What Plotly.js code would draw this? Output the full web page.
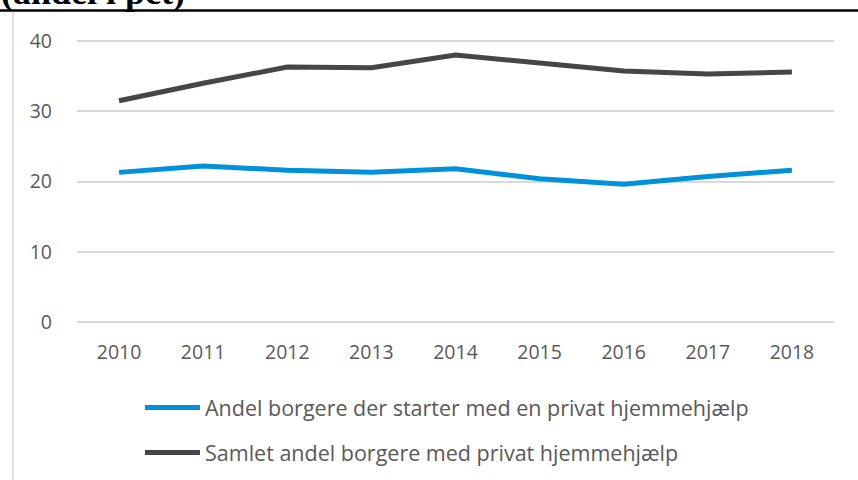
<!DOCTYPE html>
<html>
<head>
<meta charset="utf-8">
<script src="https://cdn.plot.ly/plotly-3.0.1.min.js"></script>
<style>html,body{margin:0;padding:0;background:#fff;}#chart{width:858px;height:480px;}</style>
</head>
<body>
<div id="chart"></div>
<script>
var years = ['2010','2011','2012','2013','2014','2015','2016','2017','2018'];
var andelStart = [21.3, 22.2, 21.6, 21.3, 21.8, 20.4, 19.6, 20.7, 21.6];
var samlet = [31.5, 34.0, 36.3, 36.2, 38.0, 36.8, 35.75, 35.3, 35.6];
var seriesNames = ['Andel borgere der starter med en privat hjemmehjælp', 'Samlet andel borgere med privat hjemmehjælp'];
var yTicks = [0, 10, 20, 30, 40];
var titleText = '(andel i pct)';

var W = 858, H = 480, L = 77, R = 24, T = 40, B = 157;
var pw = W - L - R, ph = H - T - B;
function px(x){ return (x - L) / pw; }
function py(y){ return (H - B - y) / ph; }

var font = "'Open Sans', 'Noto Sans', sans-serif";

var traces = [
  {x: years, y: andelStart, name: seriesNames[0], type: 'scatter', mode: 'lines',
   line: {color: '#0091DA', width: 5}, legendgroup: 'a'},
  {x: years, y: samlet, name: seriesNames[1], type: 'scatter', mode: 'lines',
   line: {color: '#464646', width: 5}, legendgroup: 'b'}
];

var layout = {
  width: W, height: H,
  margin: {l: L, r: R, t: T, b: B, pad: 0, autoexpand: false},
  paper_bgcolor: '#fff', plot_bgcolor: '#fff',
  font: {family: font, color: '#595959', size: 19},
  showlegend: true,
  legend: {orientation: 'v', xref: 'container', yref: 'container', x: 140 / W, xanchor: 'left',
           y: 1 - 387 / H, yanchor: 'top',
           font: {family: font, size: 21.5, color: '#595959'}, tracegroupgap: 14, itemwidth: 55,
           bgcolor: 'rgba(0,0,0,0)'},
  xaxis: {type: 'category', range: [-0.5, 8.5], showgrid: false, zeroline: false, showline: false,
          ticks: '', tickfont: {family: font, size: 19.5, color: '#595959'}, ticklabelstandoff: 15,
          fixedrange: true},
  yaxis: {range: [-0.15, 40.15], tickvals: yTicks, showgrid: true, gridcolor: '#D9D9D9', gridwidth: 2,
          zeroline: false, showline: false, ticks: '', ticklabelstandoff: 24,
          tickfont: {family: font, size: 19.5, color: '#595959'}, fixedrange: true},
  shapes: [
    {type: 'line', xref: 'paper', yref: 'paper', x0: px(0), x1: px(858), y0: py(10.5), y1: py(10.5),
     line: {color: '#000', width: 2.5}},
    {type: 'line', xref: 'paper', yref: 'paper', x0: px(13), x1: px(13), y0: py(12), y1: py(495),
     line: {color: '#D9D9D9', width: 1.5}}
  ],
  annotations: [
    {text: '<b>' + titleText + '</b>', xref: 'paper', yref: 'paper', x: px(-1), y: py(14),
     xanchor: 'left', yanchor: 'bottom', showarrow: false,
     font: {family: "'Liberation Serif', 'DejaVu Serif', serif", size: 36, color: '#000'}}
  ]
};

Plotly.newPlot('chart', traces, layout, {displayModeBar: false, staticPlot: true});
</script>
</body>
</html>
